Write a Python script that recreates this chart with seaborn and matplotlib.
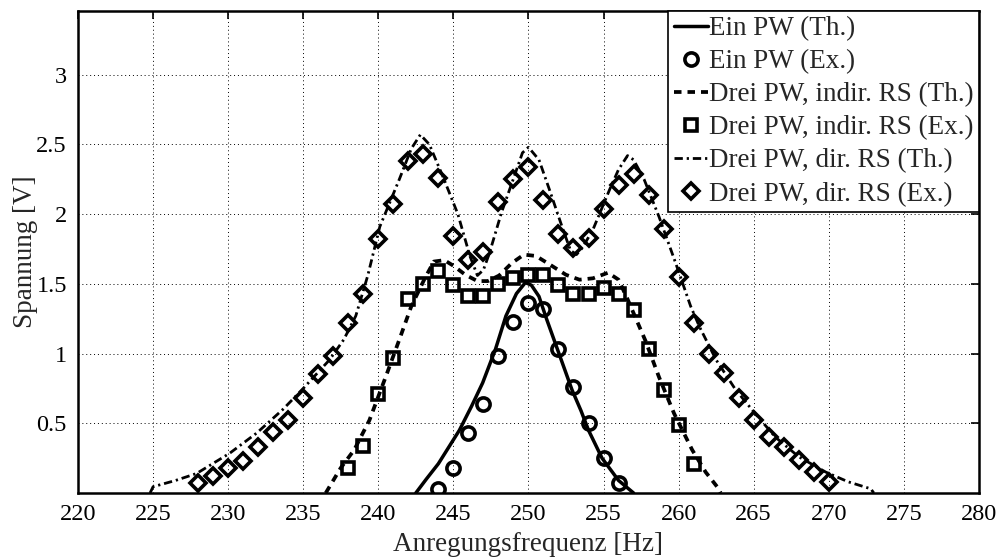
import numpy as np
import pandas as pd
import matplotlib
matplotlib.use('Agg')
import matplotlib.pyplot as plt
import seaborn as sns

# frequencies / voltages
# Ein PW - theory curve
ein_th_f = [242.5, 243.2, 244.0, 244.7, 245.4, 246.2, 246.95, 247.8, 248.5, 249.2, 249.8,
            250.2, 250.7, 251.2, 251.8, 252.4, 252.9, 253.5, 254.0, 254.9, 256.0, 257.0]
ein_th_v = [0.0, 0.10, 0.21, 0.33, 0.45, 0.62, 0.79, 1.03, 1.27, 1.43, 1.51,
            1.49, 1.41, 1.25, 1.07, 0.89, 0.74, 0.59, 0.45, 0.25, 0.09, 0.0]
# Ein PW - experiment
ein_ex_f = list(range(244, 257))
ein_ex_v = [0.03, 0.18, 0.43, 0.64, 0.98, 1.23, 1.36, 1.32, 1.03, 0.76, 0.50, 0.25, 0.07]

# Drei PW, indirekte RS - theory
ind_th_f = [236.5, 237.5, 238.4, 239.4, 240.5, 241.4, 242.2, 243.1, 243.7, 244.4, 245.0,
            245.8, 246.6, 247.3, 248.05, 248.9, 249.7, 250.5, 251.4, 252.5, 253.4, 254.3,
            255.3, 256.0, 256.6, 257.8, 258.7, 259.7, 260.9, 261.8, 262.6, 262.8]
ind_th_v = [0.0, 0.18, 0.31, 0.52, 0.835, 1.10, 1.34, 1.54, 1.66, 1.67, 1.63,
            1.565, 1.52, 1.52, 1.56, 1.65, 1.71, 1.70, 1.64, 1.565, 1.53, 1.54,
            1.58, 1.53, 1.39, 1.09, 0.83, 0.57, 0.31, 0.15, 0.04, 0.0]
# Drei PW, indirekte RS - experiment
ind_ex_f = list(range(238, 262))
ind_ex_v = [0.18, 0.34, 0.71, 0.97, 1.39, 1.50, 1.59, 1.49, 1.41, 1.41, 1.50, 1.54,
            1.56, 1.56, 1.49, 1.43, 1.43, 1.47, 1.43, 1.31, 1.03, 0.74, 0.49, 0.21]

# Drei PW, direkte RS - theory
dir_th_f = [224.8, 225.0, 226.5, 227.9, 230.1, 231.9, 233.65, 235.0, 236.75, 237.7, 238.5,
            239.3, 240.1, 241.4, 242.2, 242.8, 243.4, 244.3, 245.3, 246.1, 246.6, 247.0,
            247.4, 248.2, 249.05, 249.6, 250.0, 250.7, 251.4, 252.3, 252.8, 253.2, 253.6,
            254.3, 255.4, 256.0, 256.6, 257.0, 257.7, 258.7, 259.8, 260.8, 261.4, 262.5,
            263.8, 265.1, 266.45, 268.0, 269.8, 271.3, 272.8, 273.0]
dir_th_v = [0.0, 0.045, 0.09, 0.14, 0.285, 0.43, 0.60, 0.75, 0.955, 1.10, 1.27,
            1.56, 1.91, 2.25, 2.47, 2.57, 2.50, 2.27, 2.0, 1.70, 1.56, 1.60,
            1.72, 2.01, 2.27, 2.44, 2.48, 2.39, 2.175, 1.89, 1.74, 1.71, 1.76,
            1.89, 2.175, 2.32, 2.42, 2.39, 2.25, 1.98, 1.65, 1.34, 1.19, 0.955,
            0.74, 0.57, 0.40, 0.26, 0.15, 0.08, 0.03, 0.0]
# Drei PW, direkte RS - experiment
dir_ex_f = list(range(228, 271))
dir_ex_v = [0.07, 0.12, 0.18, 0.23, 0.33, 0.44, 0.52, 0.68, 0.85, 0.98, 1.22, 1.43,
            1.82, 2.07, 2.38, 2.43, 2.26, 1.84, 1.67, 1.73, 2.09, 2.25, 2.34, 2.10,
            1.86, 1.76, 1.83, 2.04, 2.21, 2.29, 2.14, 1.89, 1.55, 1.22, 1.00, 0.86,
            0.68, 0.52, 0.40, 0.33, 0.24, 0.15, 0.08]

labels = ['Ein PW (Th.)', 'Ein PW (Ex.)',
          'Drei PW, indir. RS (Th.)', 'Drei PW, indir. RS (Ex.)',
          'Drei PW, dir. RS (Th.)', 'Drei PW, dir. RS (Ex.)']

sns.set_style('white')
plt.rcParams['font.family'] = ['Liberation Serif', 'DejaVu Serif']
plt.rcParams['font.size'] = 17

fig = plt.figure(figsize=(10.04, 5.58), dpi=100)
ax = fig.add_axes([0.0777, 0.1165, 0.8973, 0.8645])

# theory lines and measured markers, in legend order
sns.lineplot(x=ein_th_f, y=ein_th_v, ax=ax, color='black', lw=2.5, label=labels[0], sort=False)
sns.lineplot(x=ein_ex_f, y=ein_ex_v, ax=ax, color='black', linestyle='none', marker='o',
             ms=9.5, mfc='none', mec='black', mew=2.6, label=labels[1])
sns.lineplot(x=ind_th_f, y=ind_th_v, ax=ax, color='black', lw=2.7, linestyle=(0, (2.0, 1.6)),
             label=labels[2], sort=False)
sns.lineplot(x=ind_ex_f, y=ind_ex_v, ax=ax, color='black', linestyle='none', marker='s',
             ms=8.0, mfc='none', mec='black', mew=2.6, label=labels[3])
sns.lineplot(x=dir_th_f, y=dir_th_v, ax=ax, color='black', lw=2.0,
             linestyle=(0, (3.0, 1.4, 0.8, 1.4)), label=labels[4], sort=False)
sns.lineplot(x=dir_ex_f, y=dir_ex_v, ax=ax, color='black', linestyle='none', marker='D',
             ms=8.0, mfc='none', mec='black', mew=2.6, label=labels[5])

ax.set_xlim(220, 280)
ax.set_ylim(0, 3.46)
ax.set_xticks(np.arange(220, 281, 5))
ax.set_yticks([0.5, 1, 1.5, 2, 2.5, 3])
ax.set_yticklabels(['0.5', '1', '1.5', '2', '2.5', '3'])
ax.grid(True, linestyle=(0, (1, 3)), color='black', linewidth=0.7)
ax.tick_params(direction='in', length=6, width=1.2, top=True, right=True,
               labelsize=17.5, pad=8, colors='black')
for s in ax.spines.values():
    s.set_linewidth(1.8)
    s.set_color('black')

ax.set_xlabel('Anregungsfrequenz [Hz]', fontsize=19.5, labelpad=5)
ax.set_ylabel('Spannung [V]', fontsize=19.5, labelpad=-1)

leg = ax.legend(loc='upper right', borderaxespad=0, fancybox=False, framealpha=1,
                edgecolor='black', fontsize=19.5, handlelength=1.25, handletextpad=0.05,
                labelspacing=0.3, borderpad=0.2)
leg.get_frame().set_linewidth(1.2)

fig.savefig('out.png', dpi=100)
